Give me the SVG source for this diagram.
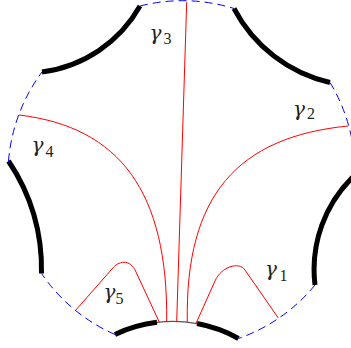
<svg xmlns="http://www.w3.org/2000/svg" width="351" height="348" viewBox="0 0 351 348">
<style>
.bd{fill:none;stroke:#000;stroke-width:5}
.thin{fill:none;stroke:#555;stroke-width:1.2}
.dash{fill:none;stroke:#0000ff;stroke-width:1;stroke-dasharray:8 5}
.geo{fill:none;stroke:#ff0000;stroke-width:1}
.g{font-family:"DejaVu Serif",serif;font-style:italic;font-size:20px;fill:#222}
.s{font-family:"Liberation Serif",serif;font-size:16px;fill:#222}
</style>
<rect width="351" height="348" fill="#fff"/>
<g id="boundary">
<path class="bd" d="M42,72 A131.6 131.6 0 0 0 140,6"/>
<path class="bd" d="M234,8.5 A145 145 0 0 0 330,82.5"/>
<path class="bd" d="M355,175 A129.6 129.6 0 0 0 315,285"/>
<path class="bd" d="M238.5,338.5 A134.8 134.8 0 0 0 197,323.55"/>
<path class="thin" d="M197,323.55 A134.8 134.8 0 0 0 157,322.35"/>
<path class="bd" d="M157,322.35 A134.8 134.8 0 0 0 115,334.5"/>
<path class="bd" d="M41.5,273.5 A195 195 0 0 0 8.5,161"/>
</g>
<g id="ideal">
<path class="dash" d="M140,6 A173 173 0 0 1 234,8.5"/>
<path class="dash" d="M330,82.5 A173 173 0 0 1 355,175"/>
<path class="dash" d="M315,285 A173 173 0 0 1 238.5,338.5"/>
<path class="dash" d="M115,334.5 A173 173 0 0 1 41.5,273.5"/>
<path class="dash" d="M8.5,161 A173 173 0 0 1 42,72"/>
</g>
<g id="connectors">
<path id="c1" class="geo" d="M196,323.4 L215,281 C221,267 239,261 245,270 L278.3,318"/>
<path id="c2" class="geo" d="M348,126 C238,137 185,195 187.3,322.2"/>
<path id="c3" class="geo" d="M186.7,2.1 L176.7,321.5"/>
<path id="c4" class="geo" d="M19,115 C120,127 168,192 166.7,321.5"/>
<path id="c5" class="geo" d="M75,311 L112,269 C118,261 130,258 136,272 L159.3,322.1"/>
</g>
<g id="label1"><text class="g" x="265" y="276">γ</text><text class="s" x="279.5" y="281">1</text></g>
<g id="label2"><text class="g" x="293" y="116">γ</text><text class="s" x="307" y="119">2</text></g>
<g id="label3"><text class="g" x="149.5" y="39.5">γ</text><text class="s" x="163.5" y="44">3</text></g>
<g id="label4"><text class="g" x="31.5" y="151.5">γ</text><text class="s" x="45.5" y="156.5">4</text></g>
<g id="label5"><text class="g" x="103.5" y="299">γ</text><text class="s" x="115.5" y="304">5</text></g>
</svg>
